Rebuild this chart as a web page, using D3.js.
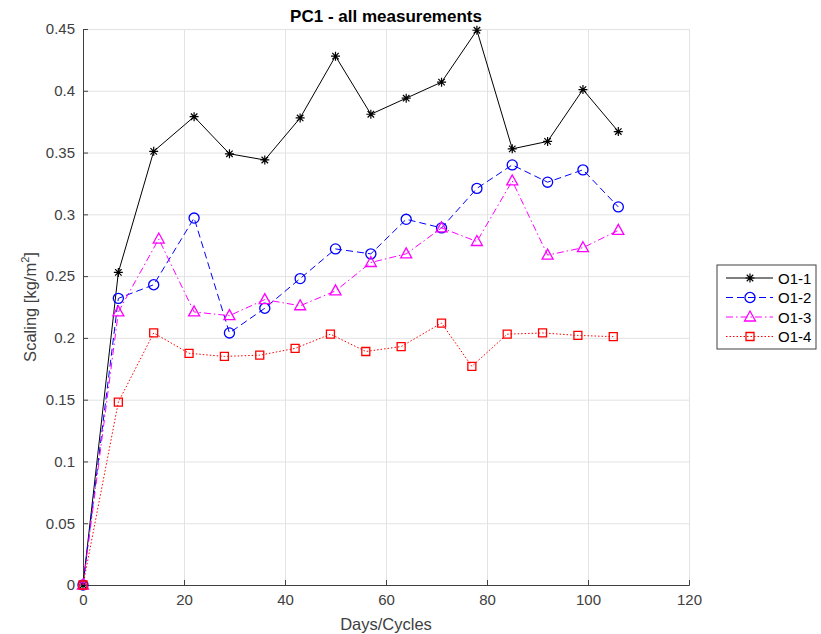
<!DOCTYPE html>
<html>
<head>
<meta charset="utf-8">
<script src="https://cdn.jsdelivr.net/npm/d3@7"></script>
<style>
  body { margin: 0; background: #fff; }
  svg { font-family: "Liberation Sans", Arial, sans-serif; }
  .grid line { stroke: #e3e3e3; stroke-width: 1; }
  .grid .domain { display: none; }
  .axis text { fill: #404040; font-size: 15px; }
  .axis line, .axis path { stroke: #404040; }
</style>
</head>
<body>
<div id="chart"></div>
<script>
const MARGINS = { left: 83, right: 132, top: 29, bottom: 49 };
const FRAME_WIDTH = 821;
const FRAME_HEIGHT = 634;
const VIS_WIDTH = FRAME_WIDTH - MARGINS.left - MARGINS.right;
const VIS_HEIGHT = FRAME_HEIGHT - MARGINS.top - MARGINS.bottom;

// days / cycles for each series
const days1 = [0, 7, 14, 22, 29, 36, 43, 50, 57, 64, 71, 78, 85, 92, 99, 106];
const days2 = [0, 7, 14, 22, 29, 36, 43, 50, 57, 64, 71, 78, 85, 92, 99, 106];
const days3 = [0, 7, 15, 22, 29, 36, 43, 50, 57, 64, 71, 78, 85, 92, 99, 106];
const days4 = [0, 7, 14, 21, 28, 35, 42, 49, 56, 63, 71, 77, 84, 91, 98, 105];

// scaling [kg/m2]
const o11 = [0, 0.253, 0.351, 0.379, 0.349, 0.344, 0.378, 0.428, 0.381, 0.394, 0.407, 0.449, 0.353, 0.359, 0.401, 0.367];
const o12 = [0, 0.232, 0.243, 0.297, 0.204, 0.224, 0.248, 0.272, 0.268, 0.296, 0.289, 0.321, 0.340, 0.326, 0.336, 0.306];
const o13 = [0, 0.221, 0.280, 0.221, 0.218, 0.231, 0.226, 0.238, 0.261, 0.268, 0.289, 0.278, 0.327, 0.267, 0.273, 0.287];
const o14 = [0, 0.148, 0.204, 0.1875, 0.185, 0.186, 0.1915, 0.203, 0.189, 0.193, 0.212, 0.177, 0.203, 0.204, 0.202, 0.201];

const seriesNames = ["O1-1", "O1-2", "O1-3", "O1-4"];
const xTicks = [0, 20, 40, 60, 80, 100, 120];
const yTicks = [0, 0.05, 0.1, 0.15, 0.2, 0.25, 0.3, 0.35, 0.4, 0.45];

const styles = [
  { color: "#000000", dash: null, marker: "star" },
  { color: "#0000ff", dash: "7,4", marker: "circle" },
  { color: "#ff00ff", dash: "7,3,1.5,3", marker: "triangle" },
  { color: "#ff0000", dash: "1.5,2", marker: "square" }
];

const series = [
  { name: seriesNames[0], x: days1, y: o11 },
  { name: seriesNames[1], x: days2, y: o12 },
  { name: seriesNames[2], x: days3, y: o13 },
  { name: seriesNames[3], x: days4, y: o14 }
];

const X_SCALE = d3.scaleLinear().domain([0, 120]).range([0, VIS_WIDTH]);
const Y_SCALE = d3.scaleLinear().domain([0, 0.45]).range([VIS_HEIGHT, 0]);

const svg = d3.select("#chart").append("svg")
  .attr("width", FRAME_WIDTH)
  .attr("height", FRAME_HEIGHT);

const plot = svg.append("g")
  .attr("transform", "translate(" + MARGINS.left + "," + MARGINS.top + ")");

// grid
plot.append("g").attr("class", "grid")
  .attr("transform", "translate(0," + VIS_HEIGHT + ")")
  .call(d3.axisBottom(X_SCALE).tickValues(xTicks).tickSize(-VIS_HEIGHT).tickFormat(""));
plot.append("g").attr("class", "grid")
  .call(d3.axisLeft(Y_SCALE).tickValues(yTicks).tickSize(-VIS_WIDTH).tickFormat(""));

// axes, ticks pointing inward
plot.append("g").attr("class", "axis")
  .attr("transform", "translate(0," + VIS_HEIGHT + ")")
  .call(d3.axisBottom(X_SCALE).tickValues(xTicks).tickSizeInner(-5).tickSizeOuter(-5).tickPadding(9).tickFormat(d3.format("d")));
plot.append("g").attr("class", "axis")
  .call(d3.axisLeft(Y_SCALE).tickValues(yTicks).tickSizeInner(-5).tickSizeOuter(-5).tickPadding(8).tickFormat(d => d3.format("")(+d.toFixed(2))));

function markerPath(type) {
  if (type === "star") {
    const r = 4.5, q = r * 0.72;
    return "M" + -r + ",0L" + r + ",0M0," + -r + "L0," + r +
      "M" + -q + "," + -q + "L" + q + "," + q + "M" + -q + "," + q + "L" + q + "," + -q;
  }
  if (type === "circle") return d3.symbol(d3.symbolCircle, 80)();
  if (type === "triangle") return "M0,-6L5.5,4L-5.5,4Z";
  return "M-4,-4L4,-4L4,4L-4,4Z";
}

const line = d3.line()
  .x(d => X_SCALE(d[0]))
  .y(d => Y_SCALE(d[1]));

series.forEach((s, i) => {
  const st = styles[i];
  const pts = s.x.map((x, j) => [x, s.y[j]]);
  plot.append("path")
    .datum(pts)
    .attr("fill", "none")
    .attr("stroke", st.color)
    .attr("stroke-width", 1)
    .attr("stroke-dasharray", st.dash)
    .attr("d", line);
  plot.selectAll(".m" + i)
    .data(pts)
    .enter()
    .append("path")
    .attr("transform", d => "translate(" + X_SCALE(d[0]) + "," + Y_SCALE(d[1]) + ")")
    .attr("d", markerPath(st.marker))
    .attr("fill", "none")
    .attr("stroke", st.color)
    .attr("stroke-width", st.marker === "star" ? 1.2 : 1.3);
});

// title and labels
svg.append("text")
  .attr("x", MARGINS.left + VIS_WIDTH / 2)
  .attr("y", 22)
  .attr("text-anchor", "middle")
  .attr("font-size", "17px")
  .attr("font-weight", "bold")
  .attr("fill", "#000")
  .text("PC1 - all measurements");

svg.append("text")
  .attr("x", MARGINS.left + VIS_WIDTH / 2)
  .attr("y", 630)
  .attr("text-anchor", "middle")
  .attr("font-size", "16.5px")
  .attr("fill", "#404040")
  .text("Days/Cycles");

const yl = svg.append("text")
  .attr("transform", "translate(36," + (MARGINS.top + VIS_HEIGHT / 2) + ") rotate(-90)")
  .attr("text-anchor", "middle")
  .attr("font-size", "16.5px")
  .attr("fill", "#404040");
yl.append("tspan").text("Scaling [kg/m");
yl.append("tspan").attr("dy", -7).attr("font-size", "11px").text("2");
yl.append("tspan").attr("dy", 7).text("]");

// legend
const legend = svg.append("g").attr("transform", "translate(717,265)");
legend.append("rect")
  .attr("width", 99).attr("height", 84)
  .attr("fill", "#fff").attr("stroke", "#404040").attr("stroke-width", 1);
series.forEach((s, i) => {
  const st = styles[i];
  const g = legend.append("g").attr("transform", "translate(0," + (13 + i * 19.5) + ")");
  g.append("line")
    .attr("x1", 9).attr("x2", 56).attr("y1", 0).attr("y2", 0)
    .attr("stroke", st.color).attr("stroke-width", 1)
    .attr("stroke-dasharray", st.dash);
  g.append("path")
    .attr("transform", "translate(33,0)")
    .attr("d", markerPath(st.marker))
    .attr("fill", "none").attr("stroke", st.color)
    .attr("stroke-width", st.marker === "star" ? 1.2 : 1.3);
  g.append("text")
    .attr("x", 61).attr("y", 5.5)
    .attr("font-size", "15px").attr("fill", "#000")
    .text(s.name);
});
</script>
</body>
</html>
